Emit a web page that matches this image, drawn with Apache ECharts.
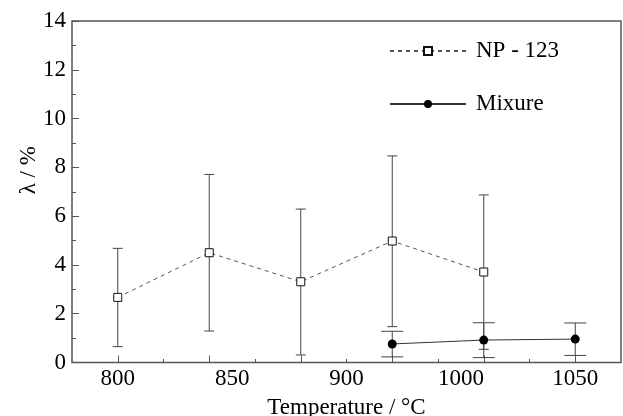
<!DOCTYPE html>
<html>
<head>
<meta charset="utf-8">
<script src="https://cdn.jsdelivr.net/npm/echarts@6/dist/echarts.min.js"></script>
<style>html,body{margin:0;padding:0;background:#fff}#c{width:623px;height:416px}</style>
</head>
<body>
<div id="c"></div>
<script>
// ---- data ----
const npName = 'NP - 123';
const npX    = [800, 850, 900, 950, 1000];
const npY    = [2.67, 4.50, 3.31, 4.98, 3.71];
const npLow  = [0.65, 1.29, 0.31, 1.47, 0.54];
const npHigh = [4.68, 7.71, 6.29, 8.47, 6.87];

const mixName = 'Mixure';
const mixX    = [950, 1000, 1050];
const mixY    = [0.76, 0.92, 0.96];
const mixLow  = [0.23, 0.20, 0.29];
const mixHigh = [1.28, 1.63, 1.62];

const xTickLabels = ['800', '850', '900', '1000', '1050'];
const xMajorTicks = [800, 850, 900, 950, 1000, 1050];
const xMinorTicks = [825, 875, 925, 975, 1025];
const yTicks      = [0, 2, 4, 6, 8, 10, 12, 14];

// ---- chart ----
const FONT = 'Liberation Serif, Tinos, Times New Roman, DejaVu Serif, serif';
const FS = 23;
const AX = '#555';
const xMin = 775, xMax = 1075;
// tick labels spread evenly from first to last major tick, as in the reference
const labelFirst = xMajorTicks[0], labelLast = xMajorTicks[xMajorTicks.length - 1];
const labelStep = (labelLast - labelFirst) / (xTickLabels.length - 1);
const labelValues = xTickLabels.map((_, i) => labelFirst + i * labelStep);

function zip(xs, ...cols) { return xs.map((x, i) => [x, ...cols.map(c => c[i])]); }

function errRender(halfW) {
  return function (params, api) {
    const x = api.value(0), lo = api.value(1), hi = api.value(2);
    const a = api.coord([x, hi]), b = api.coord([x, lo]);
    const st = { stroke: '#444', lineWidth: 1 };
    return { type: 'group', children: [
      { type: 'line', shape: { x1: a[0], y1: a[1], x2: b[0], y2: b[1] }, style: st },
      { type: 'line', shape: { x1: a[0] - halfW, y1: a[1], x2: a[0] + halfW, y2: a[1] }, style: st },
      { type: 'line', shape: { x1: b[0] - halfW, y1: b[1], x2: b[0] + halfW, y2: b[1] }, style: st }
    ]};
  };
}

const chart = echarts.init(document.getElementById('c'), null, { renderer: 'canvas' });
chart.setOption({
  animation: false,
  backgroundColor: '#fff',
  textStyle: { fontFamily: FONT },
  grid: { left: 72, right: 2, top: 21, bottom: 53.5, containLabel: false, outerBoundsMode: 'none',
    show: true, borderColor: AX, borderWidth: 1.5, backgroundColor: 'transparent' },
  legend: {
    data: [npName, mixName],
    orient: 'vertical',
    left: 384, top: 34,
    itemWidth: 76, itemHeight: 10, itemGap: 29,
    textStyle: { fontFamily: FONT, fontSize: FS, color: '#000', lineHeight: 24, padding: [0, 0, 0, 5] }
  },
  xAxis: [{
    type: 'value', min: xMin, max: xMax, position: 'bottom',
    name: 'Temperature / °C', nameLocation: 'middle', nameGap: 33.5, nameMoveOverlap: false,
    nameTextStyle: { fontFamily: FONT, fontSize: FS, color: '#000' },
    axisLine: { show: false },
    axisTick: { show: true, inside: true, length: 7, customValues: xMajorTicks, lineStyle: { color: AX } },
    axisLabel: { show: true, margin: 5, customValues: labelValues, fontFamily: FONT, fontSize: FS, color: '#000',
      formatter: (v) => { const i = labelValues.findIndex(l => Math.abs(l - v) < 1e-6); return i >= 0 ? xTickLabels[i] : ''; } },
    splitLine: { show: false }
  }, {
    type: 'value', min: xMin, max: xMax, position: 'bottom',
    axisLine: { show: false },
    axisTick: { show: true, inside: true, length: 3.5, customValues: xMinorTicks, lineStyle: { color: AX } },
    axisLabel: { show: false },
    splitLine: { show: false }
  }],
  yAxis: {
    type: 'value', min: yTicks[0], max: yTicks[yTicks.length - 1], interval: 2,
    name: 'λ / %', nameLocation: 'middle', nameGap: 32, nameMoveOverlap: false,
    nameTextStyle: { fontFamily: FONT, fontSize: FS, color: '#000', padding: [0, 0, 0, 43] },
    axisLine: { show: false },
    axisTick: { show: true, inside: true, length: 7, lineStyle: { color: AX } },
    minorTick: { show: true, splitNumber: 2, length: 4, lineStyle: { color: AX } },
    axisLabel: { margin: 6, fontFamily: FONT, fontSize: FS, color: '#000' },
    splitLine: { show: false }
  },
  series: [
    { type: 'custom', name: 'npErr', xAxisIndex: 0, yAxisIndex: 0, renderItem: errRender(5),
      data: zip(npX, npLow, npHigh), encode: { x: 0, y: [1, 2] }, z: 1, silent: true },
    { type: 'custom', name: 'mixErr', xAxisIndex: 0, yAxisIndex: 0, renderItem: errRender(11),
      data: zip(mixX, mixLow, mixHigh), encode: { x: 0, y: [1, 2] }, z: 1, silent: true },
    { type: 'line', name: npName, xAxisIndex: 0, data: zip(npX, npY), z: 3,
      symbol: 'rect', symbolSize: 8,
      lineStyle: { color: '#555', width: 1, type: [4, 4] },
      itemStyle: { color: '#fff', borderColor: '#111', borderWidth: 1 } },
    { type: 'line', name: mixName, xAxisIndex: 0, data: zip(mixX, mixY), z: 3,
      symbol: 'circle', symbolSize: 9,
      lineStyle: { color: '#333', width: 1, type: 'solid' },
      itemStyle: { color: '#000', borderColor: '#000', borderWidth: 0 } }
  ]
});
</script>
</body>
</html>
